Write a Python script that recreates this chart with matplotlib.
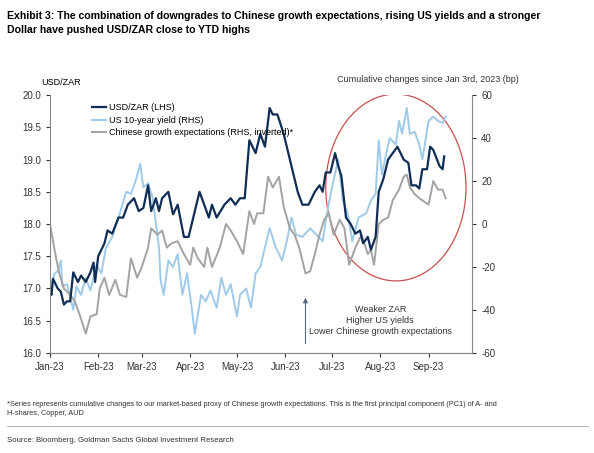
import matplotlib
matplotlib.use("Agg")
import matplotlib.pyplot as plt
import numpy as np
import datetime as dt
import matplotlib.dates as mdates
from matplotlib.patches import Ellipse

zar = [(0,17.0),(1.5,16.9),(2.5,17.15),(5,17.0),(7,16.95),(9.5,16.75),(11.6,16.8),(13.7,16.8),(15.8,17.25),(18,17.1),(20,17.2),(23,17.1),(26,17.25),(28.5,17.4),(29.5,17.1),(31.6,17.5),(35,17.7),(37,17.9),(40,17.85),(44,18.1),(47.5,18.1),(50.6,18.3),(54,18.4),(57,18.2),(60,18.25),(63,18.6),(65,18.2),(68.6,18.4),(70.7,18.2),(72.8,18.4),(76,18.5),(79,18.15),(82,18.3),(86.5,17.8),(89.7,17.8),(93,18.2),(96,18.5),(99,18.3),(102,18.1),(104.4,18.3),(107.6,18.1),(112,18.3),(116,18.4),(119,18.3),(122,18.4),(125.5,18.4),(128.7,19.3),(132,19.1),(135,19.4),(138,19.2),(141,19.8),(143.5,19.7),(146.6,19.7),(150,19.4),(153,19.1),(156,18.8),(159,18.5),(162,18.3),(166.7,18.3),(170,18.5),(173,18.6),(175,18.5),(177,18.8),(180,18.8),(183.5,19.1),(185.6,18.9),(187.8,18.75),(190,18.1),(193,18.0),(196,17.85),(199,17.9),(201.5,17.7),(204.6,17.8),(206.7,17.6),(209,17.8),(211,18.5),(214,18.7),(217,19.0),(220.5,19.1),(223.6,19.2),(227,19.0),(230,18.95),(232,18.6),(235,18.6),(237,18.55),(239.5,18.85),(242.6,18.85),(244.7,19.2),(246.8,19.15),(250,18.9),(252,18.85),(253.6,19.05)]

us10y = [(0,-31),(3,-23),(5,-22),(7,-17),(8,-29),(11,-28),(15,-40),(17,-29),(20,-33),(23,-25),(26,-31),(30,-19),(33,-23),(36,-11),(40,-6),(44,3),(49,15),(52,14),(55,20),(58,28),(60,17),(63,19),(66,12),(70,-11),(71,-26),(73,-33),(76,-17),(79,-20),(82,-14),(85,-33),(88,-23),(91,-39),(93,-51),(95,-42),(97,-33),(100,-36),(103,-31),(107,-39),(110,-25),(113,-33),(116,-28),(120,-43),(122,-33),(126,-30),(129,-39),(132,-23),(135,-20),(138,-11),(141,-2),(145,-11),(149,-17),(152,-8),(155,3),(158,-5),(162,-6),(167,-2),(171,-5),(175,-8),(178,6),(181,17),(185,30),(188,11),(191,5),(194,-8),(198,3),(203,5),(206,11),(209,14),(211,39),(213,23),(215,30),(218,40),(222,37),(224,48),(226,42),(229,54),(231,42),(234,43),(237,37),(239,30),(243,48),(246,50),(249,48),(252,47),(254,50)]

china = [(0,0),(2,-8),(4,-16),(6,-23),(9,-30),(13,-33),(16,-36),(19,-42),(23,-51),(26,-43),(30,-42),(32,-30),(35,-25),(38,-33),(42,-26),(45,-33),(49,-34),(52,-16),(56,-25),(59,-20),(63,-11),(65,-2),(69,-5),(72,-3),(75,-11),(78,-9),(82,-8),(86,-14),(90,-19),(92,-11),(95,-16),(99,-20),(101,-11),(104,-20),(109,-11),(113,0),(116,-3),(120,-8),(124,-14),(128,6),(131,0),(133,5),(137,5),(140,22),(143,17),(147,22),(150,8),(154,-2),(157,-5),(160,-11),(164,-23),(167,-22),(170,-14),(173,-5),(176,2),(179,5),(182,-5),(186,2),(189,-2),(192,-19),(196,-11),(200,-5),(204,-14),(206,-12),(208,-19),(211,0),(214,2),(217,3),(220,11),(224,16),(227,22),(229,23),(231,17),(234,14),(237,12),(239,11),(243,9),(246,20),(249,16),(252,16),(254,12)]

months = ["Jan-23","Feb-23","Mar-23","Apr-23","May-23","Jun-23","Jul-23","Aug-23","Sep-23"]

base = dt.date(2023,1,1)
def unpack(s):
    d = [base + dt.timedelta(days=float(a)) for a,_ in s]
    return d, [b for _,b in s]

plt.rcParams['font.family'] = ['Liberation Sans','DejaVu Sans']
plt.rcParams['axes.unicode_minus'] = False
fig = plt.figure(figsize=(5.94,4.53), dpi=100)
ax = fig.add_axes([0.084,0.221,0.711,0.569])
ax2 = ax.twinx()
ax.set_zorder(ax2.get_zorder()+1); ax.patch.set_visible(False)

navy, lb, grey = "#0f2d55", "#9fcbea", "#a3a3a3"
d,v = unpack(us10y); l2, = ax2.plot(d, v, color=lb, lw=1.4)
d,v = unpack(china); l3, = ax2.plot(d, v, color=grey, lw=1.4)
d,v = unpack(zar); l1, = ax.plot(d, v, color=navy, lw=1.6)

ax.set_ylim(16,20); ax2.set_ylim(-60,60)
ax.set_yticks(np.arange(16,20.01,0.5)); ax.set_yticklabels([f"{x:.1f}" for x in np.arange(16,20.01,0.5)])
ax2.set_yticks(range(-60,61,20))
ax.set_xlim(base, base+dt.timedelta(days=271))
ax.set_xticks([dt.date(2023,m,1) for m in range(1,10)]); ax.set_xticklabels(months)
for a in (ax, ax2):
    a.spines["top"].set_visible(False)
    a.tick_params(labelsize=7, colors="#333333", length=3)
    for s in a.spines.values(): s.set_color("#888888")
ax.spines["right"].set_visible(False)
ax2.spines["left"].set_visible(False)

ax.legend([l1,l2,l3], ["USD/ZAR (LHS)","US 10-year yield (RHS)","Chinese growth expectations (RHS, inverted)*"],
          loc="upper left", bbox_to_anchor=(0.08,1.0), frameon=False, fontsize=6.5, handlelength=1.6, handletextpad=0.3, labelspacing=0.4)

ax.text(-0.02, 1.04, "USD/ZAR", transform=ax.transAxes, fontsize=6.5, ha="left")
ax2.text(1.11, 1.05, "Cumulative changes since Jan 3rd, 2023 (bp)", transform=ax2.transAxes, fontsize=6.5, ha="right", color="#333333")

c = base+dt.timedelta(days=222)
ell = Ellipse((mdates.date2num(c), 17), width=90, height=87, fill=False, ec="#c9504f", lw=0.9)
ax2.add_patch(ell)
arr_x = base+dt.timedelta(days=164)
ax.annotate("", xy=(arr_x,16.9), xytext=(arr_x,16.1), arrowprops=dict(arrowstyle="-|>", color="#556b80", lw=0.8, mutation_scale=7))
ax.text(base+dt.timedelta(days=212), 16.5, "Weaker ZAR\nHigher US yields\nLower Chinese growth expectations", ha="center", va="center", fontsize=6.5, color="#333333", linespacing=1.3)

fig.text(0.012, 0.975, "Exhibit 3: The combination of downgrades to Chinese growth expectations, rising US yields and a stronger\nDollar have pushed USD/ZAR close to YTD highs",
         fontsize=7.6, fontweight="bold", va="top", linespacing=1.5)
fig.text(0.012, 0.115, "*Series represents cumulative changes to our market-based proxy of Chinese growth expectations. This is the first principal component (PC1) of A- and\nH-shares, Copper, AUD",
         fontsize=5.3, va="top", color="#333333", linespacing=1.5)
fig.text(0.012, 0.035, "Source: Bloomberg, Goldman Sachs Global Investment Research", fontsize=5.6, va="top", color="#333333")
fig.add_artist(plt.Line2D([0.012,0.99],[0.06,0.06], color="#aaaaaa", lw=0.6))
fig.savefig("out.png", dpi=100)
